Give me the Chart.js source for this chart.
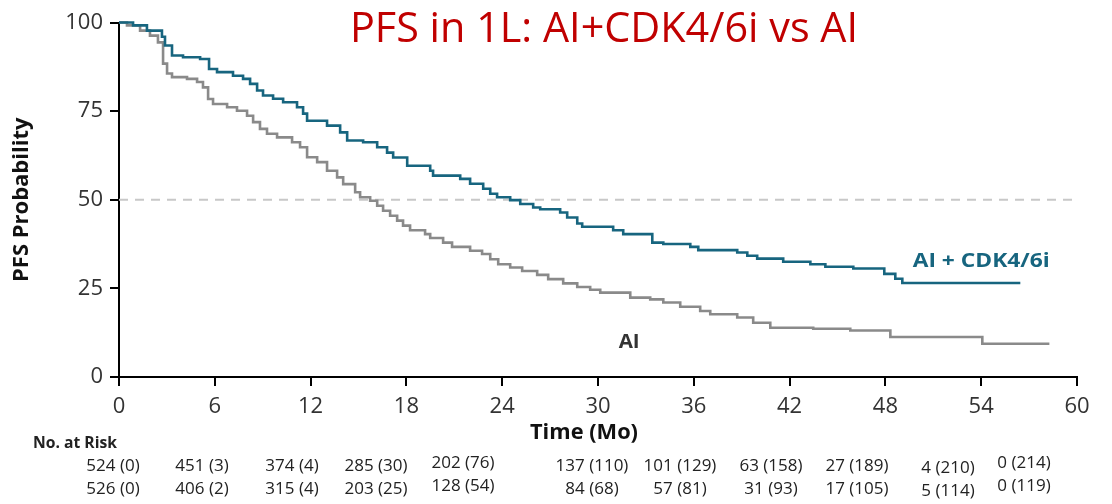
<!DOCTYPE html>
<html>
<head>
<meta charset="utf-8">
<script src="https://cdn.jsdelivr.net/npm/chart.js@4/dist/chart.umd.min.js"></script>
<style>
  html, body { margin: 0; padding: 0; background: #fff; }
  #wrap { width: 1112px; height: 504px; position: relative; }
</style>
</head>
<body>
<div id="wrap"><canvas id="km" width="1112" height="504"></canvas></div>
<script>
// Kaplan-Meier steps: time (months) where the curve reaches the listed PFS probability (%)
const cdkTime = [0,0.88,1.75,2.69,2.88,3.32,4.01,5.08,5.64,6.14,7.14,7.77,8.21,8.65,9.02,9.65,10.28,11.15,11.53,11.78,13.03,13.85,14.29,15.29,16.17,16.79,17.17,18.05,19.49,19.67,21.37,21.99,22.81,23.25,23.68,24.50,25.13,25.94,26.38,27.63,28.07,28.70,29.01,30.95,31.58,33.40,34.09,35.78,36.28,38.72,39.35,39.97,41.60,43.30,44.24,45.99,47.93,48.62,49.06,56.45];
const cdkSurv = [100,99.2,97.7,96.0,93.5,90.7,90.2,89.7,86.9,86.0,85.0,84.1,82.7,80.8,79.4,78.5,77.5,76.1,74.3,72.3,70.9,69.0,66.7,66.2,64.8,63.3,61.9,59.6,58.2,56.8,55.9,54.5,53.1,51.7,50.7,49.9,48.8,47.8,47.3,46.4,45.0,43.3,42.4,41.4,40.3,37.9,37.5,36.7,35.8,35.1,34.2,33.4,32.5,31.8,31.1,30.6,29.1,27.7,26.5,26.5];

const aiTime = [0,0.50,1.32,1.94,2.44,2.76,3.01,3.32,4.26,4.89,5.26,5.58,5.89,6.77,7.39,8.02,8.40,8.83,9.27,9.90,10.84,11.34,11.78,12.41,13.03,13.66,14.04,14.79,15.10,15.73,16.17,16.54,16.98,17.42,17.79,18.23,19.17,19.49,20.30,20.86,21.99,22.74,23.25,23.75,24.50,25.25,26.19,26.88,27.82,28.70,29.51,30.14,32.02,33.27,34.09,35.15,36.40,37.03,38.72,39.72,40.79,43.48,45.80,48.31,54.07,58.27];
const aiSurv = [100,99.2,97.7,96.3,94.4,88.4,85.6,84.6,84.1,83.2,81.7,78.4,77.0,76.1,75.1,73.7,71.9,70.0,68.6,67.6,66.2,64.8,62.0,60.6,58.2,56.3,54.4,52.1,50.7,49.7,48.3,46.9,45.5,44.1,42.7,41.4,40.3,39.2,37.9,36.7,35.6,34.7,33.2,31.8,30.9,29.9,28.8,27.6,26.4,25.4,24.6,23.8,22.4,21.9,21.0,19.8,18.6,17.7,16.8,15.3,13.9,13.6,13.1,11.3,9.4,9.4];

// Median reference level (%)
const medianLevel = 50;

// Numbers at risk (censored) at months 0, 6, 12 ... 60
const riskCdk = ['524 (0)','451 (3)','374 (4)','285 (30)','202 (76)','137 (110)','101 (129)','63 (158)','27 (189)','4 (210)','0 (214)'];
const riskAi  = ['526 (0)','406 (2)','315 (4)','203 (25)','128 (54)','84 (68)','57 (81)','31 (93)','17 (105)','5 (114)','0 (119)'];

const titleText = 'PFS in 1L: AI+CDK4/6i vs AI';
const xTitle = 'Time (Mo)';
const yTitle = 'PFS Probability';
const labelCdk = 'AI + CDK4/6i';
const labelAi = 'AI';

// Table layout (pixel centres of the at-risk columns and small vertical nudges)
const riskColX  = [113,202,292,376,463,592,680,771,857,948,1024];
const riskColDy = [0,0,0,0,-3,0,0,0,0,2,-3];

const TEAL = '#17657f';
const GREY = '#8a8a8a';
const TXT = '#333333';
const FONT = '"Open Sans", "Noto Sans", sans-serif';

const zip = (xs, ys) => xs.map((x, i) => ({ x, y: ys[i] }));

// Draws text squeezed/stretched horizontally to a target width
function fitText(ctx, text, cx, baseline, font, color, width) {
  ctx.save();
  ctx.font = font;
  ctx.fillStyle = color;
  ctx.textAlign = 'center';
  ctx.textBaseline = 'alphabetic';
  const w = ctx.measureText(text).width;
  ctx.translate(cx, baseline);
  if (width) ctx.scale(width / w, 1);
  ctx.fillText(text, 0, 0);
  ctx.restore();
}

const annotations = {
  id: 'annotations',
  afterDraw(chart) {
    const { ctx, scales: { x, y } } = chart;
    // Title
    fitText(ctx, titleText, 604, 42, '42px ' + FONT, '#c00000', 508);
    // Axis title under the time axis
    fitText(ctx, xTitle, 584, 439, 'bold 22px ' + FONT, '#111', 108);
    // Curve labels
    fitText(ctx, labelCdk, x.getPixelForValue(54.0), y.getPixelForValue(31.0),
            'bold 20px ' + FONT, TEAL, 137);
    fitText(ctx, labelAi, x.getPixelForValue(31.95), y.getPixelForValue(8.2),
            'bold 20px ' + FONT, TXT, 21);
    // Number at risk table
    fitText(ctx, 'No. at Risk', 75, 448, 'bold 16px ' + FONT, '#222', 84);
    ctx.save();
    ctx.font = '17px ' + FONT;
    ctx.fillStyle = '#222';
    ctx.textAlign = 'center';
    ctx.textBaseline = 'alphabetic';
    riskCdk.forEach((t, i) => ctx.fillText(t, riskColX[i], 471 + riskColDy[i]));
    riskAi.forEach((t, i) => ctx.fillText(t, riskColX[i], 494 + riskColDy[i]));
    ctx.restore();
  }
};

new Chart(document.getElementById('km'), {
  type: 'line',
  data: {
    datasets: [
      {
        label: labelCdk,
        data: zip(cdkTime, cdkSurv),
        borderColor: TEAL,
        borderWidth: 2.6,
        stepped: 'before',
        pointRadius: 0,
        fill: false,
        clip: false
      },
      {
        label: labelAi,
        data: zip(aiTime, aiSurv),
        borderColor: GREY,
        borderWidth: 2.6,
        stepped: 'before',
        pointRadius: 0,
        fill: false,
        clip: false
      },
      {
        label: 'Median',
        data: [{ x: 0, y: medianLevel }, { x: 60, y: medianLevel }],
        borderColor: '#c8c8c8',
        borderWidth: 2,
        borderDash: [9, 7],
        pointRadius: 0,
        fill: false
      }
    ]
  },
  options: {
    responsive: false,
    animation: false,
    devicePixelRatio: 1,
    layout: { padding: { left: 0, top: 22.5, right: 35, bottom: 0 } },
    plugins: { legend: { display: false }, tooltip: { enabled: false }, title: { display: false } },
    scales: {
      x: {
        type: 'linear',
        min: 0, max: 60,
        afterFit: s => { s.height = 127; },
        ticks: { stepSize: 6, color: TXT, font: { family: FONT, size: 22 }, padding: 8, maxRotation: 0 },
        grid: { drawOnChartArea: false, drawTicks: true, tickLength: 9, color: '#000', lineWidth: 2 },
        border: { display: true, color: '#000', width: 2 },
        title: { display: false }
      },
      y: {
        min: 0, max: 100,
        afterFit: s => { s.width = 119; },
        ticks: { stepSize: 25, color: TXT, font: { family: FONT, size: 22 }, padding: 7 },
        grid: { drawOnChartArea: false, drawTicks: true, tickLength: 9, color: '#000', lineWidth: 2 },
        border: { display: true, color: '#000', width: 2 },
        title: { display: true, text: yTitle, color: '#111', font: { family: FONT, size: 22, weight: 'bold' }, padding: { top: 9, bottom: 0 } }
      }
    }
  },
  plugins: [annotations]
});
</script>
</body>
</html>
